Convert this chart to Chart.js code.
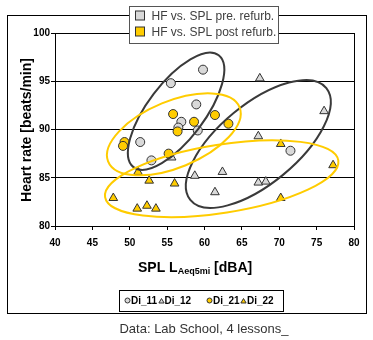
<!DOCTYPE html>
<html>
<head>
<meta charset="utf-8">
<title>Heart rate vs. SPL</title>
<script src="https://cdn.jsdelivr.net/npm/chart.js@4.4.0/dist/chart.umd.min.js"></script>
<style>
  html, body { margin: 0; padding: 0; background: #fff; }
  #wrap { width: 373px; height: 340px; }
</style>
</head>
<body>
<div id="wrap"><canvas id="hrChart" width="373" height="340"></canvas></div>
<script>
// SPL [dBA] vs. heart rate [beats/min], one [x, y] pair per lesson sample
const di11 = [[59.8, 96.2], [55.5, 94.8], [58.9, 92.6], [56.9, 90.8], [56.5, 90.2],
  [59.1, 89.9], [51.4, 88.7], [52.9, 86.8], [71.5, 87.8]];
const di12 = [[67.4, 95.3], [76.0, 91.9], [67.2, 89.3], [55.6, 87.1], [58.7, 85.2],
  [62.4, 85.6], [67.2, 84.5], [68.2, 84.6], [61.4, 83.5]];
const di21 = [[55.8, 91.6], [61.4, 91.5], [58.6, 90.8], [63.2, 90.6], [56.4, 89.8],
  [49.3, 88.7], [49.1, 88.3], [55.2, 87.5]];
const di22 = [[70.2, 88.5], [77.2, 86.3], [70.2, 82.9], [51.1, 85.6], [52.6, 84.7],
  [56.0, 84.4], [47.8, 82.9], [51.0, 81.8], [52.3, 82.1], [53.5, 81.8]];

const xTicks = [40, 45, 50, 55, 60, 65, 70, 75, 80];
const yTicks = [80, 85, 90, 95, 100];

// cluster outlines: centre, end of major axis, end of minor axis (data units)
const preClusters = [
  [[56.2, 91.9], [61.9, 97.7], [59.2, 90.1]],
  [[67.2, 88.5], [76.3, 94.3], [70.5, 85.3]]
];
const postClusters = [
  [[55.9, 89.5], [64.7, 92.3], [57.5, 86.3]],
  [[62.3, 84.9], [77.9, 86.8], [63.0, 81.4]]
];

const FONT = '"Liberation Sans", Arial, sans-serif';
const GREY = '#d9d9d9';
const GOLD = '#ffcc00';
const EDGE = '#333333';

const toPts = (arr) => arr.map(([x, y]) => ({ x, y }));

function strokeEllipse(ctx, chart, [c, a, b], color) {
  const sx = chart.scales.x, sy = chart.scales.y;
  const cx = sx.getPixelForValue(c[0]), cy = sy.getPixelForValue(c[1]);
  const ax = sx.getPixelForValue(a[0]) - cx, ay = sy.getPixelForValue(a[1]) - cy;
  const bx = sx.getPixelForValue(b[0]) - cx, by = sy.getPixelForValue(b[1]) - cy;
  ctx.save();
  ctx.beginPath();
  ctx.transform(ax, ay, bx, by, cx, cy);
  ctx.arc(0, 0, 1, 0, Math.PI * 2);
  ctx.restore();
  ctx.save();
  ctx.strokeStyle = color;
  ctx.lineWidth = 2;
  ctx.stroke();
  ctx.restore();
}

function marker(ctx, kind, x, y, r, fill) {
  ctx.beginPath();
  if (kind === 'circle') {
    ctx.arc(x, y, r, 0, Math.PI * 2);
  } else {
    ctx.moveTo(x, y - r);
    ctx.lineTo(x + r * 0.87, y + r * 0.5);
    ctx.lineTo(x - r * 0.87, y + r * 0.5);
    ctx.closePath();
  }
  ctx.fillStyle = fill;
  ctx.fill();
  ctx.strokeStyle = EDGE;
  ctx.lineWidth = 1;
  ctx.stroke();
}

const decorations = {
  id: 'decorations',
  beforeDraw(chart) {
    const ctx = chart.ctx;
    ctx.save();
    ctx.fillStyle = '#fff';
    ctx.fillRect(0, 0, chart.width, chart.height);
    ctx.strokeStyle = '#000';
    ctx.lineWidth = 1;
    ctx.strokeRect(7.5, 15.5, 359, 298);
    ctx.restore();
  },
  afterDatasetsDraw(chart) {
    const ctx = chart.ctx;
    preClusters.forEach((e) => strokeEllipse(ctx, chart, e, '#3a3a3a'));
    postClusters.forEach((e) => strokeEllipse(ctx, chart, e, GOLD));
  },
  afterDraw(chart) {
    const ctx = chart.ctx;
    const area = chart.chartArea;
    ctx.save();

    // right edge of the plot box
    ctx.strokeStyle = '#000';
    ctx.lineWidth = 1;
    ctx.beginPath();
    ctx.moveTo(Math.round(area.right) + 0.5, area.top);
    ctx.lineTo(Math.round(area.right) + 0.5, area.bottom);
    ctx.stroke();

    // y axis title
    ctx.fillStyle = '#000';
    ctx.font = 'bold 14px ' + FONT;
    ctx.save();
    ctx.translate(31, 130);
    ctx.rotate(-Math.PI / 2);
    ctx.textAlign = 'center';
    ctx.textBaseline = 'alphabetic';
    ctx.fillText('Heart rate [beats/min]', 0, 0);
    ctx.restore();

    // x axis title with subscript
    let tx = 138;
    ctx.textAlign = 'left';
    ctx.textBaseline = 'alphabetic';
    ctx.font = 'bold 14px ' + FONT;
    ctx.fillText('SPL L', tx, 271.5);
    tx += ctx.measureText('SPL L').width;
    ctx.font = 'bold 9px ' + FONT;
    ctx.fillText('Aeq5mi', tx, 274);
    tx += ctx.measureText('Aeq5mi').width;
    ctx.font = 'bold 14px ' + FONT;
    ctx.fillText(' [dBA]', tx, 271.5);

    // series key under the axis title
    ctx.fillStyle = '#fff';
    ctx.fillRect(119.5, 290.5, 164, 21);
    ctx.strokeStyle = '#000';
    ctx.strokeRect(119.5, 290.5, 164, 21);
    const keys = [
      ['circle', GREY, 'Di_11', 127.5, 131],
      ['triangle', GREY, 'Di_12', 161.5, 164.5],
      ['circle', GOLD, 'Di_21', 209.5, 213],
      ['triangle', GOLD, 'Di_22', 243.5, 247]
    ];
    ctx.font = 'bold 10px ' + FONT;
    ctx.textBaseline = 'middle';
    keys.forEach(([kind, fill, label, mx, lx]) => {
      marker(ctx, kind, mx, kind === 'circle' ? 300.5 : 301.5, kind === 'circle' ? 2.5 : 3, fill);
      ctx.fillStyle = '#000';
      ctx.fillText(label, lx, 301);
    });

    // group key on top of the frame
    ctx.fillStyle = '#fff';
    ctx.fillRect(129.5, 6.5, 149, 37);
    ctx.strokeStyle = '#555';
    ctx.strokeRect(129.5, 6.5, 149, 37);
    ctx.lineWidth = 1;
    [[GREY, 'HF vs. SPL pre. refurb.', 15.5], [GOLD, 'HF vs. SPL post refurb.', 31.5]].forEach(([fill, label, y]) => {
      ctx.fillStyle = fill;
      ctx.fillRect(135.5, y - 4.5, 9, 9);
      ctx.strokeStyle = '#333';
      ctx.strokeRect(135.5, y - 4.5, 9, 9);
      ctx.fillStyle = '#404040';
      ctx.font = '12px ' + FONT;
      ctx.textBaseline = 'middle';
      ctx.fillText(label, 151.5, y + 1);
    });

    // source note
    ctx.fillStyle = '#333';
    ctx.font = '13px ' + FONT;
    ctx.textAlign = 'center';
    ctx.textBaseline = 'middle';
    ctx.fillText('Data: Lab School, 4 lessons_', 204, 329);
    ctx.restore();
  }
};

const tickFont = { family: FONT, size: 10, weight: 'bold' };

new Chart(document.getElementById('hrChart'), {
  type: 'scatter',
  data: {
    datasets: [
      { label: 'Di_21', data: toPts(di21), pointStyle: 'circle', pointRadius: 4.5,
        backgroundColor: GOLD, borderColor: EDGE, borderWidth: 1, order: 0 },
      { label: 'Di_22', data: toPts(di22), pointStyle: 'triangle', pointRadius: 5,
        backgroundColor: GOLD, borderColor: EDGE, borderWidth: 1, order: 1 },
      { label: 'Di_11', data: toPts(di11), pointStyle: 'circle', pointRadius: 4.5,
        backgroundColor: GREY, borderColor: EDGE, borderWidth: 1, order: 2 },
      { label: 'Di_12', data: toPts(di12), pointStyle: 'triangle', pointRadius: 5,
        backgroundColor: GREY, borderColor: EDGE, borderWidth: 1, order: 3 }
    ]
  },
  options: {
    responsive: false,
    animation: false,
    devicePixelRatio: 1,
    layout: { padding: { left: 0, top: 33, right: 19, bottom: 94 } },
    plugins: { legend: { display: false }, tooltip: { enabled: false } },
    scales: {
      x: {
        type: 'linear',
        min: xTicks[0],
        max: xTicks[xTicks.length - 1],
        afterBuildTicks: (s) => { s.ticks = xTicks.map((v) => ({ value: v })); },
        ticks: { color: '#000', font: tickFont, padding: 7 },
        grid: { drawOnChartArea: false, color: '#000', tickLength: 4 },
        border: { color: '#000', width: 1 },
        afterFit: (s) => { s.height = 20; }
      },
      y: {
        min: yTicks[0],
        max: yTicks[yTicks.length - 1],
        afterBuildTicks: (s) => { s.ticks = yTicks.map((v) => ({ value: v })); },
        ticks: { color: '#000', font: tickFont, padding: 1 },
        grid: { color: '#000', tickLength: 4, lineWidth: 1 },
        border: { color: '#000', width: 1 },
        afterFit: (s) => { s.width = 55; }
      }
    }
  },
  plugins: [decorations]
});
</script>
</body>
</html>
